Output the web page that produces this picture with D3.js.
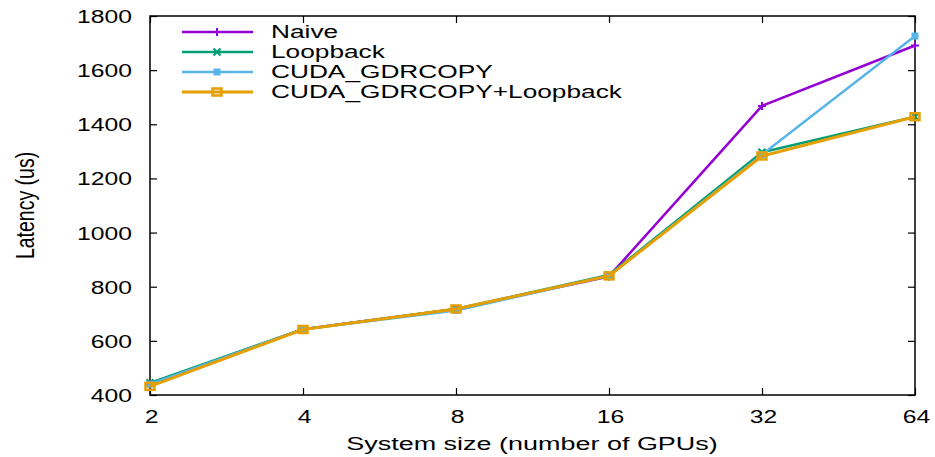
<!DOCTYPE html>
<html><head><meta charset="utf-8">
<script src="https://cdn.jsdelivr.net/npm/d3@7"></script>
<style>body{margin:0;background:#fff}svg{display:block}text{font-family:"Liberation Sans",Arial,sans-serif;fill:#000}</style>
</head><body><svg id="c" width="935" height="457"></svg>
<script>
const categories = [2, 4, 8, 16, 32, 64];
const naive = [440, 643, 718, 838, 1468, 1691];
const loopback = [445, 643, 718, 843, 1297, 1428];
const gdrcopy = [440, 643, 712, 840, 1288, 1726];
const gdrLoop = [432, 642, 718, 840, 1283, 1428];
const yTicks = [400, 600, 800, 1000, 1200, 1400, 1600, 1800];
const seriesNames = ["Naive", "Loopback", "CUDA_GDRCOPY", "CUDA_GDRCOPY+Loopback"];
const seriesColors = ["#9400d3", "#009e73", "#56b4e9", "#e69f00"];
const seriesMarks = ["plus", "cross", "fsquare", "osquare"];
const seriesData = [naive, loopback, gdrcopy, gdrLoop];

(function () {
const svg = d3.select("#c");
const L = 150, R = 915, T = 16, B = 395;
const x = d3.scaleLog().base(2).domain([2, 64]).range([L, R]);
const y = d3.scaleLinear().domain([400, 1800]).range([B, T]);

function txt(g, xx, yy, s, anchor, size, sx) {
  return g.append("text").attr("transform", `translate(${xx},${yy}) scale(${sx},1)`)
    .attr("text-anchor", anchor).attr("font-size", size).text(s);
}

const ax = svg.append("g");
ax.append("g").attr("transform", `translate(${L},0)`)
  .call(d3.axisLeft(y).tickValues(yTicks).tickSize(-7).tickFormat(""));
ax.append("g").attr("transform", `translate(${R},0)`)
  .call(d3.axisRight(y).tickValues(yTicks).tickSize(-7).tickFormat(""));
ax.append("g").attr("transform", `translate(0,${B})`)
  .call(d3.axisBottom(x).tickValues(categories).tickSize(-7).tickFormat(""));
ax.append("g").attr("transform", `translate(0,${T})`)
  .call(d3.axisTop(x).tickValues(categories).tickSize(-7).tickFormat(""));
ax.selectAll(".domain").remove();
ax.selectAll(".tick line").attr("stroke", "#000").attr("stroke-width", 1.2);

const labels = svg.append("g");
yTicks.forEach(v => txt(labels, 132, y(v) + 7, String(v), "end", 19, 1.3));
categories.forEach(v => txt(labels, x(v) + 1.5, 423, String(v), "middle", 19, 1.3));

svg.append("rect").attr("x", L).attr("y", T).attr("width", R - L).attr("height", B - T)
  .attr("fill", "none").attr("stroke", "#000").attr("stroke-width", 1.5);

txt(labels, 532, 450, "System size (number of GPUs)", "middle", 18.6, 1.45);
labels.append("text").attr("transform", `translate(34,${(T + B) / 2}) rotate(-90) scale(1,1.35)`)
  .attr("text-anchor", "middle").attr("font-size", 19.5).text("Latency (us)");

function marker(g, type, cx, cy, color) {
  if (type === "plus") {
    g.append("path").attr("d", `M${cx-4},${cy}H${cx+4}M${cx},${cy-4}V${cy+4}`).attr("stroke", color).attr("stroke-width", 2);
  } else if (type === "cross") {
    g.append("path").attr("d", `M${cx-3.5},${cy-3.5}L${cx+3.5},${cy+3.5}M${cx-3.5},${cy+3.5}L${cx+3.5},${cy-3.5}`).attr("stroke", color).attr("stroke-width", 2.2);
  } else if (type === "fsquare") {
    g.append("rect").attr("x", cx - 3.5).attr("y", cy - 3.5).attr("width", 7).attr("height", 7).attr("fill", color);
  } else {
    g.append("rect").attr("x", cx - 4.5).attr("y", cy - 3.5).attr("width", 9).attr("height", 7).attr("fill", "none").attr("stroke", color).attr("stroke-width", 2.5);
  }
}

const line = d3.line().x((d, i) => x(categories[i])).y(d => y(d));
const plot = svg.append("g");
seriesData.forEach((data, k) => {
  const g = plot.append("g");
  g.append("path").attr("d", line(data)).attr("fill", "none").attr("stroke", seriesColors[k])
    .attr("stroke-width", k === 3 ? 3 : 2.5).attr("stroke-linejoin", "round");
  data.forEach((d, i) => marker(g, seriesMarks[k], x(categories[i]), y(d), seriesColors[k]));
});

const lg = svg.append("g");
seriesNames.forEach((n, k) => {
  const ly = 32 + k * 20;
  lg.append("line").attr("x1", 182).attr("x2", 253).attr("y1", ly).attr("y2", ly)
    .attr("stroke", seriesColors[k]).attr("stroke-width", k === 3 ? 3 : 2.5);
  marker(lg, seriesMarks[k], 217, ly, seriesColors[k]);
  txt(lg, 271, ly + 6.3, n, "start", 18.5, 1.42);
});
})();
</script></body></html>
